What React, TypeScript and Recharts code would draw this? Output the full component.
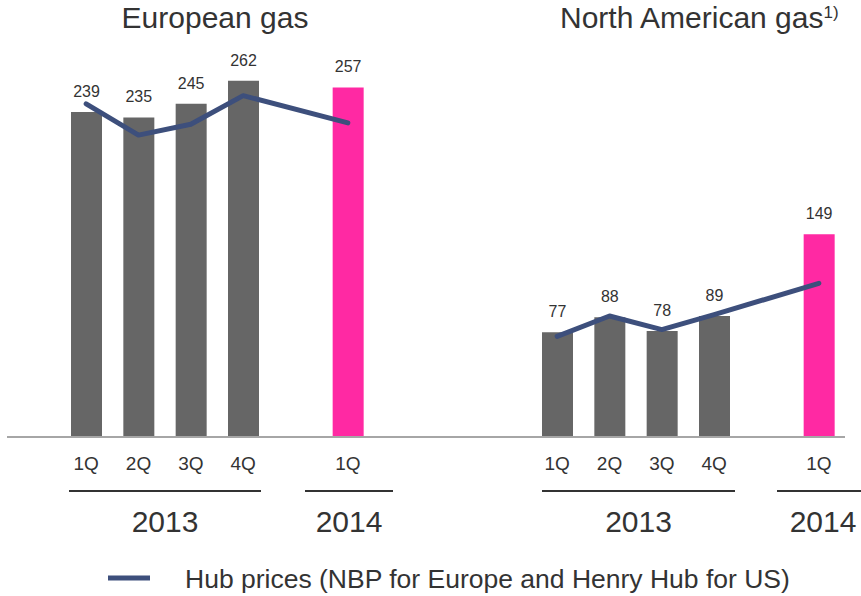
import React from "react";
import {
  ComposedChart,
  Bar,
  Line,
  XAxis,
  YAxis,
  Cell,
  LabelList,
} from "recharts";

document.body.style.margin = "0";

// quarters per region: 2013 1Q-4Q, then 2014 1Q
const quarters = ["1Q", "2Q", "3Q", "4Q", "1Q"];
const europeVolumes = [239, 235, 245, 262, 257];
const europeHub = [245, 222, 230, 251, 231];
const usVolumes = [77, 88, 78, 89, 149];
const usHub = [74, 89, 79, 90, 113];

const GRAY = "#666666";
const PINK = "#FF29A3";
const BLUE = "#3d4f7c";
const TEXT = "#333333";
const FONT = "'Liberation Sans', Arial, sans-serif";

type Row = {
  slot: string;
  label: string;
  volume: number | null;
  latest: boolean;
  europe: number | null;
  us: number | null;
};

function spacer(id: string): Row {
  return { slot: id, label: "", volume: null, latest: false, europe: null, us: null };
}

function regionRows(prefix: string, vols: number[], hub: number[], key: "europe" | "us") {
  const out: Row[] = [];
  vols.forEach((v, i) => {
    if (i === 4) out.push(spacer(prefix + "-gap"));
    out.push({
      slot: prefix + i,
      label: quarters[i],
      volume: v,
      latest: i === 4,
      europe: key === "europe" ? hub[i] : null,
      us: key === "us" ? hub[i] : null,
    });
  });
  return out;
}

const rows: Row[] = [
  ...regionRows("eu", europeVolumes, europeHub, "europe"),
  spacer("mid1"),
  spacer("mid2"),
  spacer("mid3"),
  ...regionRows("us", usVolumes, usHub, "us"),
];

const QuarterTick = (props: any) => {
  const { x, y, index } = props;
  const label = rows[index]?.label ?? "";
  return (
    <text x={x} y={y + 33} textAnchor="middle" fontSize={19} fill={TEXT} fontFamily={FONT}>
      {label}
    </text>
  );
};

const yearMarks = [
  { text: "2013", x1: 69, x2: 261 },
  { text: "2014", x1: 305, x2: 393 },
  { text: "2013", x1: 542, x2: 735 },
  { text: "2014", x1: 777, x2: 861 },
];

export default function App() {
  return (
    <div style={{ position: "relative", width: 861, height: 596, fontFamily: FONT }}>
      <ComposedChart
        width={861}
        height={596}
        data={rows}
        margin={{ top: 29, right: 16, bottom: 129, left: 7 }}
      >
        <XAxis
          dataKey="slot"
          height={30}
          interval={0}
          padding={{ left: 53, right: 0 }}
          axisLine={{ stroke: "#a6a6a6", strokeWidth: 2 }}
          tickLine={false}
          tickSize={0}
          tickMargin={0}
          tick={<QuarterTick />}
        />
        <YAxis hide domain={[0, 300]} />
        <Bar dataKey="volume" barSize={31} isAnimationActive={false}>
          {rows.map((r) => (
            <Cell key={r.slot} fill={r.latest ? PINK : GRAY} />
          ))}
          <LabelList
            dataKey="volume"
            position="top"
            offset={15}
            fill={TEXT}
            fontSize={16}
            fontFamily={FONT}
            formatter={(v: any) => (v == null ? "" : v)}
          />
        </Bar>
        <Line
          dataKey="europe"
          stroke={BLUE}
          strokeWidth={5}
          strokeLinecap="round"
          strokeLinejoin="round"
          dot={false}
          activeDot={false}
          connectNulls
          isAnimationActive={false}
        />
        <Line
          dataKey="us"
          stroke={BLUE}
          strokeWidth={5}
          strokeLinecap="round"
          strokeLinejoin="round"
          dot={false}
          activeDot={false}
          connectNulls
          isAnimationActive={false}
        />
      </ComposedChart>
      <svg
        width={861}
        height={596}
        style={{ position: "absolute", left: 0, top: 0, pointerEvents: "none" }}
      >
        <text x={215} y={28} textAnchor="middle" fontSize={30} fill={TEXT} fontFamily={FONT}>
          European gas
        </text>
        <text x={560} y={28} fontSize={30} fill={TEXT} fontFamily={FONT}>
          North American gas
          <tspan fontSize={17} dy={-10}>1)</tspan>
        </text>
        {yearMarks.map((m, i) => (
          <g key={i}>
            <line x1={m.x1} x2={m.x2} y1={491} y2={491} stroke={TEXT} strokeWidth={2} />
            <text
              x={(m.x1 + m.x2) / 2 + (i === 3 ? 4 : 0)}
              y={532}
              textAnchor="middle"
              fontSize={30}
              fill={TEXT}
              fontFamily={FONT}
            >
              {m.text}
            </text>
          </g>
        ))}
        <line x1={108} x2={150} y1={578} y2={578} stroke={BLUE} strokeWidth={5} />
        <text x={185} y={588} fontSize={26.5} fill={TEXT} fontFamily={FONT}>
          Hub prices (NBP for Europe and Henry Hub for US)
        </text>
      </svg>
    </div>
  );
}
